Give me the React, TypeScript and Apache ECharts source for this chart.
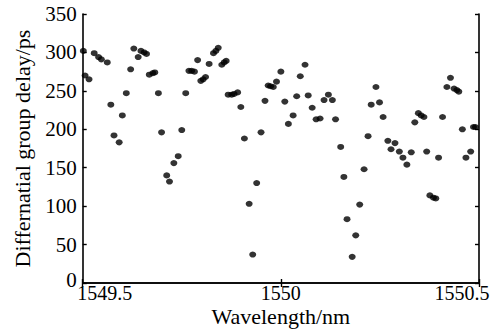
import React, { useEffect, useRef } from "react";
import * as echarts from "echarts";

const wavelengths: number[] = [
  1549.5015, 1549.506, 1549.516, 1549.529, 1549.54, 1549.547, 1549.562, 1549.571, 1549.579, 1549.592,
  1549.6, 1549.61, 1549.621, 1549.629, 1549.64, 1549.647, 1549.655, 1549.661, 1549.668, 1549.677,
  1549.682, 1549.691, 1549.699, 1549.712, 1549.719, 1549.73, 1549.741, 1549.75, 1549.76, 1549.768,
  1549.775, 1549.782, 1549.79, 1549.798, 1549.804, 1549.81, 1549.819, 1549.83, 1549.836, 1549.842,
  1549.851, 1549.857, 1549.862, 1549.867, 1549.876, 1549.882, 1549.891, 1549.899, 1549.908, 1549.92,
  1549.929, 1549.939, 1549.95, 1549.96, 1549.968, 1549.974, 1549.981, 1549.989, 1550.0, 1550.01,
  1550.019, 1550.031, 1550.04, 1550.049, 1550.061, 1550.069, 1550.079, 1550.089, 1550.099, 1550.109,
  1550.12, 1550.13, 1550.138, 1550.151, 1550.159, 1550.167, 1550.18, 1550.189, 1550.199, 1550.21,
  1550.22, 1550.228, 1550.24, 1550.249, 1550.258, 1550.27, 1550.278, 1550.288, 1550.299, 1550.308,
  1550.318, 1550.329, 1550.338, 1550.347, 1550.354, 1550.361, 1550.368, 1550.376, 1550.385, 1550.391,
  1550.398, 1550.408, 1550.419, 1550.428, 1550.437, 1550.444, 1550.449, 1550.458, 1550.467, 1550.479,
  1550.486, 1550.491,
];

const delays: number[] = [
  302, 270, 265, 299, 294, 291, 287, 232, 192, 183,
  218, 247, 278, 305, 294, 302, 300, 298, 271, 273,
  274, 247, 196, 140, 132, 156, 165, 199, 247, 276,
  276, 275, 290, 263, 265, 268, 285, 299, 302, 306,
  284, 287, 289, 245, 245, 246, 248, 229, 188, 103,
  37, 130, 196, 237, 257, 256, 255, 262, 275, 236,
  207, 218, 243, 269, 284, 244, 228, 213, 214, 238,
  245, 238, 213, 177, 138, 83, 34, 62, 102, 148,
  191, 232, 255, 235, 216, 185, 174, 182, 171, 163,
  154, 170, 209, 221, 218, 216, 171, 114, 111, 110,
  163, 216, 255, 267, 253, 251, 249, 200, 163, 171,
  203, 203,
];

const xMin = 1549.5;
const xMax = 1550.5;
const xStep = 0.5;
const yMin = 0;
const yMax = 350;
const yStep = 50;

const xTitle = "Wavelength/nm";
const yTitle = "Differnatial group delay/ps";

const FONT = "Liberation Serif";

export default function App() {
  const ref = useRef<HTMLDivElement>(null);

  useEffect(() => {
    if (!ref.current) return;
    const chart = echarts.init(ref.current, undefined, { renderer: "svg" });
    const axisLine = { show: true, lineStyle: { color: "#000", width: 1.6 } };
    const tick = { show: true, inside: true, length: 4, lineStyle: { color: "#000", width: 1.4 } };
    const data = wavelengths.map((w, i) => [w, delays[i]]);
    const xRich = { fontFamily: FONT, fontSize: 20, lineHeight: 15, color: "#000" };
    chart.setOption({
      animation: false,
      backgroundColor: "#fff",
      grid: {
        left: 82.7,
        right: 20,
        top: 14,
        bottom: 47,
        containLabel: false,
        outerBoundsMode: "none",
      },
      xAxis: [
        {
          type: "value",
          position: "bottom",
          min: xMin,
          max: xMax,
          interval: xStep,
          axisLine,
          axisTick: tick,
          splitLine: { show: false },
          axisLabel: {
            color: "#000",
            fontFamily: FONT,
            fontSize: 20,
            margin: 2,
            lineHeight: 15,
            formatter: (v: number) => {
              if (Math.abs(v - xMin) < 1e-6) return "{l|" + v + "}";
              if (Math.abs(v - xMax) < 1e-6) return "{r|" + v + "}";
              return "{c|" + v + "}";
            },
            rich: {
              l: { ...xRich, padding: [0, 0, 0, 44] },
              r: { ...xRich, padding: [0, 34, 0, 0] },
              c: { ...xRich },
            },
          },
          name: xTitle,
          nameLocation: "middle",
          nameGap: 25,
          nameMoveOverlap: false,
          nameTextStyle: { color: "#000", fontFamily: FONT, fontSize: 22, lineHeight: 17 },
        },
        {
          type: "value",
          position: "top",
          min: xMin,
          max: xMax,
          interval: xStep,
          axisLine,
          axisTick: tick,
          axisLabel: { show: false },
          splitLine: { show: false },
        },
      ],
      yAxis: [
        {
          type: "value",
          position: "left",
          min: yMin,
          max: yMax,
          interval: yStep,
          axisLine,
          axisTick: tick,
          splitLine: { show: false },
          axisLabel: {
            color: "#000",
            fontFamily: FONT,
            fontSize: 21,
            lineHeight: 16,
            margin: 6,
            formatter: (v: number) => (v === yMin ? "{z|" + v + "}" : "{n|" + v + "}"),
            rich: {
              z: { fontFamily: FONT, fontSize: 21, lineHeight: 16, color: "#000", padding: [0, 0, 6, 0] },
              n: { fontFamily: FONT, fontSize: 21, lineHeight: 16, color: "#000" },
            },
          },
          name: yTitle,
          nameLocation: "middle",
          nameGap: 49,
          nameMoveOverlap: false,
          nameTextStyle: { color: "#000", fontFamily: FONT, fontSize: 22 },
        },
        {
          type: "value",
          position: "right",
          min: yMin,
          max: yMax,
          interval: yStep,
          axisLine,
          axisTick: tick,
          axisLabel: { show: false },
          splitLine: { show: false },
        },
      ],
      series: [
        {
          type: "scatter",
          xAxisIndex: 0,
          yAxisIndex: 0,
          data,
          symbol: "circle",
          symbolSize: [7, 6],
          itemStyle: { color: "#000" },
        },
      ],
    });
    return () => chart.dispose();
  }, []);

  return (
    <div
      ref={ref}
      style={{ position: "fixed", left: 0, top: 0, width: 499, height: 330, background: "#fff" }}
    />
  );
}
